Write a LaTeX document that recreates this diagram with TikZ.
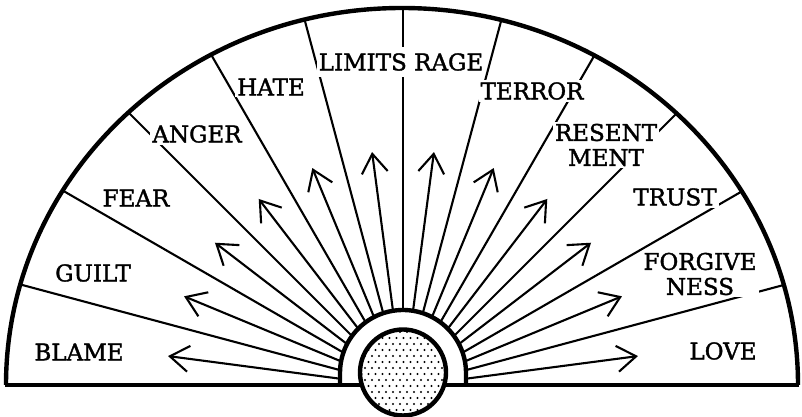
\documentclass[tikz,border=0pt]{standalone}
\usepackage{fontspec}
\setmainfont{DejaVu Serif}
\newfontfamily\lblfont{DejaVu Serif}[FakeBold=1.6]
\usetikzlibrary{arrows.meta,calc}
\begin{document}
\begin{tikzpicture}[x=1pt,y=1pt,
  lbl/.style={font=\lblfont\fontsize{23}{25}\selectfont, align=center, inner sep=2pt, fill=white},
  divider/.style={line width=2.1pt},
  ray/.style={line width=2.1pt, -{Straight Barb[length=19pt,width=26pt]}},
  heavy/.style={line width=4.4pt}
]
\useasboundingbox (0,0) rectangle (802,417);
\coordinate (O) at (403,30);
\coordinate (C) at (403,44.5);
% sectors and arrows, clipped to the outer half-ellipse
\begin{scope}
  \clip (6,32) -- (798,32) arc[start angle=0,end angle=180,x radius=396,y radius=377] -- cycle;
  \foreach \a in {15,30,...,165} {
    \draw[divider] (O) -- ++(\a:520);
  }
  \foreach \a in {7.5,22.5,...,172.5} {
    \draw[ray] ($(O)+(\a:40)$) -- ($(O)+(\a:237)$);
  }
\end{scope}
% outer rim and baseline
\coordinate (L) at (5,32);
\coordinate (R) at (799,32);
\draw[heavy] (798,32) arc[start angle=0,end angle=180,x radius=396,y radius=377];
% inner arch
\coordinate (AL) at (340,32);
\coordinate (AR) at (466,32);
\fill[white] (AL) -- (340,44) arc[start angle=180,end angle=0,radius=63] -- (AR) -- cycle;
\draw[heavy] (AL) -- (340,44) arc[start angle=180,end angle=0,radius=63] -- (AR);
\draw[heavy] (L) -- (R);
% dotted core
\fill[white] (C) circle (43);
\begin{scope}
  \clip (C) circle (43);
  \foreach \j in {0,...,15} {
    \foreach \i in {0,...,13} {
      \fill ({358 + 7*\i + 3.5*mod(\j,2)}, {1 + 6*\j}) circle (1.15);
    }
  }
\end{scope}
\draw[heavy] (C) circle (43);
% labels
\node[lbl] (blame) at (79,65) {BLAME};
\node[lbl] (guilt) at (93,144) {GUILT};
\node[lbl] (fear) at (136,219) {FEAR};
\node[lbl] (anger) at (197,283) {ANGER};
\node[lbl] (hate) at (271,330) {HATE};
\node[lbl, inner ysep=6pt] (limits) at (401,355) {LIMITS RAGE};
\node[lbl] (terror) at (532,326) {TERROR};
\node[lbl] (resent) at (606,272) {RESENT\\MENT};
\node[lbl] (trust) at (675,220) {TRUST};
\node[lbl] (forgive) at (700,143) {FORGIVE\\NESS};
\node[lbl] (love) at (723,66) {LOVE};
\end{tikzpicture}
\end{document}
